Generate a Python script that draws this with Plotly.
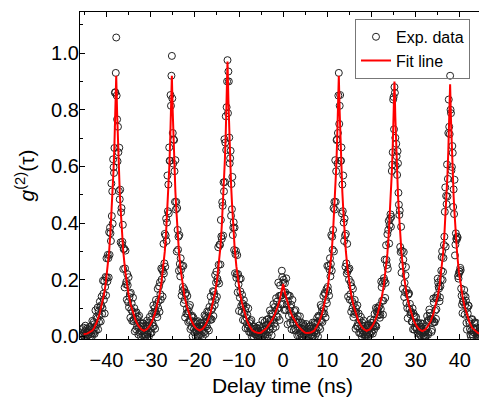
import plotly.graph_objects as go

# ---------------- data ----------------
# Experimental g2(tau) histogram: bins start at t_start and are t_step apart.
t_start = -45.6   # ns
t_step = 0.1      # ns

edge_left = [0.0, 0.026, 0.009, 0.004, 0.031, 0.014, 0.0, 0.019, 0.038, 0.007,
             0.012, 0.0, 0.028, 0.016, 0.005, 0.022]

# window around the peak at -37.8 ns  (-44.0 ... -31.5 ns)
peak_m378 = [0.006, 0.014, 0.034, 0.0, 0.033, 0.009, 0.026, 0.0, 0.055, 0.023,
             0.011, 0.051, 0.043, 0.009, 0.031, 0.092, 0.021, 0.068, 0.041, 0.063,
             0.102, 0.025, 0.089, 0.051, 0.076, 0.123, 0.104, 0.053, 0.11, 0.141,
             0.08, 0.1, 0.197, 0.151, 0.129, 0.195, 0.081, 0.175, 0.21, 0.145,
             0.276, 0.208, 0.194, 0.288, 0.276, 0.208, 0.368, 0.288, 0.384, 0.364,
             0.337, 0.54, 0.425, 0.512, 0.398, 0.625, 0.597, 0.577, 0.665, 0.86,
             0.862, 0.93,
             1.055,
             0.85, 0.766, 0.618, 0.74, 0.65, 0.513, 0.666, 0.484, 0.518, 0.332,
             0.438, 0.453, 0.324, 0.334, 0.394, 0.238, 0.308, 0.31, 0.173, 0.24,
             0.303, 0.184, 0.193, 0.13, 0.22, 0.181, 0.121, 0.209, 0.103, 0.139,
             0.15, 0.066, 0.154, 0.094, 0.117, 0.055, 0.087, 0.137, 0.054, 0.061,
             0.1, 0.018, 0.083, 0.064, 0.025, 0.085, 0.034, 0.059, 0.069, 0.007,
             0.031, 0.073, 0.013, 0.037, 0.046, 0.0, 0.036, 0.018, 0.047, 0.004,
             0.035, 0.046, 0.01]

# window around the peak at -25.2 ns  (-31.4 ... -18.9 ns)
peak_m252 = [0.0, 0.007, 0.038, 0.0, 0.028, 0.014, 0.056, 0.008, 0.021, 0.049,
             0.0, 0.039, 0.069, 0.011, 0.027, 0.058, 0.013, 0.081, 0.048, 0.037,
             0.11, 0.036, 0.083, 0.1, 0.027, 0.087, 0.129, 0.079, 0.114, 0.068,
             0.168, 0.1, 0.125, 0.177, 0.087, 0.191, 0.149, 0.13, 0.24, 0.201,
             0.236, 0.141, 0.23, 0.327, 0.222, 0.258, 0.362, 0.246, 0.356, 0.416,
             0.337, 0.402, 0.568, 0.442, 0.536, 0.434, 0.667, 0.62, 0.62, 0.852,
             0.814, 0.92,
             0.99,
             0.84, 0.718, 0.61, 0.695, 0.693, 0.583, 0.475, 0.622, 0.448, 0.475,
             0.3, 0.453, 0.376, 0.306, 0.352, 0.232, 0.358, 0.256, 0.212, 0.276,
             0.236, 0.144, 0.249, 0.16, 0.175, 0.249, 0.117, 0.167, 0.129, 0.067,
             0.15, 0.154, 0.081, 0.098, 0.143, 0.08, 0.051, 0.088, 0.103, 0.055,
             0.111, 0.026, 0.057, 0.071, 0.033, 0.073, 0.0, 0.05, 0.066, 0.027,
             0.014, 0.049, 0.033, 0.0, 0.052, 0.02, 0.034, 0.007, 0.054, 0.002,
             0.021, 0.027, 0.008]

# window around the peak at -12.6 ns  (-18.8 ... -6.3 ns)
peak_m126 = [0.047, 0.036, 0.005, 0.048, 0.019, 0.037, 0.0, 0.047, 0.039, 0.015,
             0.075, 0.033, 0.009, 0.071, 0.061, 0.036, 0.088, 0.028, 0.067, 0.086,
             0.021, 0.104, 0.065, 0.058, 0.141, 0.092, 0.06, 0.122, 0.1, 0.16,
             0.072, 0.157, 0.146, 0.111, 0.217, 0.129, 0.19, 0.229, 0.14, 0.204,
             0.195, 0.315, 0.253, 0.187, 0.324, 0.323, 0.254, 0.411, 0.353, 0.344,
             0.474, 0.461, 0.356, 0.544, 0.512, 0.696, 0.545, 0.684, 0.777, 0.658,
             0.809, 0.9,
             0.975,
             0.788, 0.935, 0.9, 0.702, 0.611, 0.629, 0.655, 0.426, 0.538, 0.449,
             0.563, 0.358, 0.384, 0.403, 0.305, 0.384, 0.223, 0.29, 0.302, 0.207,
             0.22, 0.287, 0.156, 0.22, 0.184, 0.09, 0.203, 0.137, 0.159, 0.204,
             0.107, 0.086, 0.147, 0.116, 0.058, 0.109, 0.128, 0.08, 0.055, 0.093,
             0.029, 0.105, 0.066, 0.044, 0.076, 0.028, 0.099, 0.038, 0.016, 0.047,
             0.054, 0.014, 0.026, 0.058, 0.0, 0.028, 0.012, 0.035, 0.0, 0.036,
             0.016, 0.008, 0.027]

# window around the (antibunched) peak at 0 ns  (-6.2 ... 6.3 ns)
peak_0 = [0.008, 0.014, 0.031, 0.0, 0.027, 0.004, 0.017, 0.0, 0.039, 0.01,
          0.0, 0.029, 0.021, 0.0, 0.01, 0.056, 0.0, 0.034, 0.009, 0.023,
          0.051, 0.0, 0.039, 0.008, 0.025, 0.059, 0.042, 0.001, 0.042, 0.062,
          0.014, 0.025, 0.092, 0.056, 0.037, 0.081, 0.004, 0.058, 0.079, 0.028,
          0.114, 0.061, 0.045, 0.104, 0.088, 0.034, 0.135, 0.071, 0.123, 0.098,
          0.069, 0.19, 0.101, 0.143, 0.058, 0.18, 0.144, 0.113, 0.144, 0.232,
          0.209, 0.115,
          0.19,
          0.2, 0.154, 0.093, 0.188, 0.156, 0.094, 0.205, 0.112, 0.147, 0.043,
          0.124, 0.145, 0.072, 0.091, 0.143, 0.047, 0.102, 0.112, 0.025, 0.077,
          0.129, 0.048, 0.061, 0.022, 0.09, 0.067, 0.028, 0.093, 0.021, 0.05,
          0.061, 0.004, 0.072, 0.03, 0.049, 0.005, 0.031, 0.071, 0.01, 0.018,
          0.049, 0.0, 0.039, 0.026, 0.0, 0.044, 0.007, 0.027, 0.036, 0.0,
          0.01, 0.044, 0.0, 0.018, 0.028, 0.0, 0.022, 0.008, 0.035, 0.0,
          0.027, 0.038, 0.004]

# window around the peak at 12.6 ns  (6.4 ... 18.9 ns)
peak_126 = [0.021, 0.015, 0.0, 0.049, 0.002, 0.029, 0.015, 0.048, 0.0, 0.029,
            0.045, 0.01, 0.023, 0.066, 0.05, 0.0, 0.073, 0.033, 0.071, 0.057,
            0.026, 0.111, 0.055, 0.103, 0.088, 0.051, 0.08, 0.143, 0.098, 0.081,
            0.154, 0.15, 0.067, 0.129, 0.167, 0.117, 0.249, 0.175, 0.16, 0.249,
            0.144, 0.236, 0.276, 0.212, 0.256, 0.358, 0.232, 0.352, 0.306, 0.376,
            0.453, 0.3, 0.475, 0.448, 0.622, 0.475, 0.583, 0.693, 0.695, 0.61,
            0.718, 0.85,
            0.93,
            0.75, 0.814, 0.852, 0.62, 0.62, 0.667, 0.434, 0.536, 0.442, 0.568,
            0.402, 0.337, 0.416, 0.356, 0.246, 0.362, 0.258, 0.222, 0.327, 0.23,
            0.141, 0.236, 0.201, 0.24, 0.13, 0.149, 0.191, 0.087, 0.177, 0.125,
            0.1, 0.168, 0.068, 0.114, 0.079, 0.129, 0.087, 0.027, 0.1, 0.083,
            0.036, 0.11, 0.037, 0.048, 0.081, 0.013, 0.058, 0.027, 0.011, 0.069,
            0.039, 0.0, 0.049, 0.021, 0.008, 0.056, 0.014, 0.028, 0.0, 0.038,
            0.007, 0.0, 0.03]

# window around the peak at 25.2 ns  (19.0 ... 31.5 ns)
peak_252 = [0.013, 0.006, 0.04, 0.0, 0.038, 0.013, 0.031, 0.007, 0.06, 0.048,
            0.016, 0.038, 0.048, 0.01, 0.035, 0.057, 0.024, 0.08, 0.04, 0.036,
            0.101, 0.035, 0.087, 0.098, 0.074, 0.085, 0.102, 0.077, 0.108, 0.066,
            0.077, 0.097, 0.194, 0.174, 0.126, 0.188, 0.077, 0.126, 0.206, 0.197,
            0.271, 0.136, 0.189, 0.322, 0.27, 0.252, 0.361, 0.239, 0.376, 0.408,
            0.328, 0.393, 0.415, 0.431, 0.387, 0.422, 0.584, 0.606, 0.65, 0.836,
            0.845, 0.731,
            0.88,
            0.86, 0.701, 0.602, 0.68, 0.636, 0.57, 0.654, 0.611, 0.507, 0.465,
            0.429, 0.444, 0.316, 0.298, 0.387, 0.225, 0.302, 0.25, 0.168, 0.271,
            0.298, 0.139, 0.189, 0.156, 0.216, 0.245, 0.118, 0.164, 0.1, 0.064,
            0.147, 0.151, 0.152, 0.096, 0.115, 0.078, 0.085, 0.086, 0.052, 0.053,
            0.099, 0.025, 0.082, 0.07, 0.024, 0.072, 0.033, 0.049, 0.068, 0.026,
            0.03, 0.048, 0.012, 0.0, 0.045, 0.019, 0.035, 0.006, 0.047, 0.002,
            0.034, 0.027, 0.01]

# window around the peak at 37.8 ns  (31.6 ... 44.1 ns)
peak_378 = [0.045, 0.02, 0.003, 0.0, 0.017, 0.015, 0.0, 0.001, 0.036, 0.028,
            0.072, 0.055, 0.006, 0.013, 0.058, 0.095, 0.083, 0.071, 0.062, 0.061,
            0.016, 0.023, 0.059, 0.048, 0.134, 0.12, 0.052, 0.05, 0.091, 0.137,
            0.062, 0.096, 0.135, 0.146, 0.204, 0.19, 0.176, 0.169, 0.124, 0.138,
            0.177, 0.201, 0.232, 0.28, 0.301, 0.199, 0.228, 0.277, 0.323, 0.352,
            0.44, 0.526, 0.317, 0.496, 0.467, 0.607, 0.494, 0.556, 0.718, 0.836,
            0.74, 0.714,
            0.92,
            0.8, 0.788, 0.586, 0.598, 0.672, 0.648, 0.457, 0.519, 0.432, 0.553,
            0.286, 0.324, 0.364, 0.345, 0.341, 0.352, 0.349, 0.213, 0.204, 0.222,
            0.229, 0.229, 0.242, 0.234, 0.169, 0.144, 0.112, 0.082, 0.124, 0.121,
            0.146, 0.164, 0.077, 0.111, 0.14, 0.126, 0.048, 0.024, 0.1, 0.081,
            0.109, 0.108, 0.055, 0.046, 0.026, 0.007, 0.0, 0.02, 0.059, 0.061,
            0.007, 0.0, 0.026, 0.014, 0.046, 0.05, 0.027, 0.022, 0.048, 0.032,
            0.014, 0.0, 0.0]

edge_right = [0.017, 0.0, 0.006, 0.029, 0.011, 0.0, 0.021, 0.004, 0.034, 0.009,
              0.0, 0.015, 0.026, 0.003, 0.012]

windows = [peak_m378, peak_m252, peak_m126, peak_0, peak_126, peak_252, peak_378]
for i, w in enumerate(windows):
    assert len(w) == 126, (i, len(w))
g2_data = edge_left + peak_m378 + peak_m252 + peak_m126 + peak_0 + peak_126 + peak_252 + peak_378 + edge_right

# Fit line
fit_t = [-45.2, -44.4, -43.8, -43.2, -42.8, -42.2, -41.6, -41.1, -40.6, -40.2, -39.8, -39.4, -39.1, -38.8, -38.6, -38.4, -38.2, -38.0, -37.8,
         -37.6, -37.4, -37.2, -37.0, -36.8, -36.5, -36.2, -35.8, -35.4, -35.0, -34.5, -34.0, -33.4, -32.8, -32.2, -31.5,
         -30.8, -30.2, -29.6, -29.0, -28.5, -28.0, -27.6, -27.2, -26.8, -26.5, -26.2, -26.0, -25.8, -25.6, -25.4, -25.2,
         -25.0, -24.8, -24.6, -24.4, -24.2, -23.9, -23.6, -23.2, -22.8, -22.4, -21.9, -21.4, -20.8, -20.2, -19.6, -18.9,
         -18.2, -17.6, -17.0, -16.4, -15.9, -15.4, -15.0, -14.6, -14.2, -13.9, -13.6, -13.4, -13.2, -13.0, -12.8, -12.6,
         -12.4, -12.2, -12.0, -11.8, -11.6, -11.3, -11.0, -10.6, -10.2, -9.8, -9.3, -8.8, -8.2, -7.6, -7.0, -6.3, -5.6, -5.0,
         -4.4, -4.0, -3.6, -3.2, -2.8, -2.4, -2.0, -1.6, -1.2, -0.8, -0.4, 0.0, 0.4, 0.8, 1.2, 1.6, 2.0, 2.4, 2.8, 3.2, 3.6, 4.0, 4.4, 5.0, 5.6, 6.3, 7.0,
         7.6, 8.2, 8.8, 9.3, 9.8, 10.2, 10.6, 11.0, 11.3, 11.6, 11.8, 12.0, 12.2, 12.4, 12.6,
         12.8, 13.0, 13.2, 13.4, 13.6, 13.9, 14.2, 14.6, 15.0, 15.4, 15.9, 16.4, 17.0, 17.6, 18.2, 18.9,
         19.6, 20.2, 20.8, 21.4, 21.9, 22.4, 22.8, 23.2, 23.6, 23.9, 24.2, 24.4, 24.6, 24.8, 25.0, 25.2,
         25.4, 25.6, 25.8, 26.0, 26.2, 26.5, 26.8, 27.2, 27.6, 28.0, 28.5, 29.0, 29.6, 30.2, 30.8, 31.5,
         32.2, 32.8, 33.4, 34.0, 34.5, 35.0, 35.4, 35.8, 36.2, 36.5, 36.8, 37.0, 37.2, 37.4, 37.6, 37.8,
         38.0, 38.2, 38.4, 38.6, 38.8, 39.1, 39.4, 39.8, 40.2, 40.6, 41.1, 41.6, 42.2, 42.8, 43.4, 44.0, 44.6, 44.9]
fit_g2 = [0.008, 0.010, 0.015, 0.021, 0.03, 0.05, 0.078, 0.108, 0.146, 0.184, 0.234, 0.30, 0.37, 0.45, 0.51, 0.59, 0.68, 0.79, 0.92,
          0.79, 0.68, 0.59, 0.51, 0.45, 0.37, 0.30, 0.235, 0.185, 0.148, 0.111, 0.082, 0.056, 0.038, 0.026, 0.020,
          0.026, 0.038, 0.056, 0.082, 0.111, 0.148, 0.185, 0.235, 0.30, 0.37, 0.45, 0.51, 0.59, 0.68, 0.79, 0.92,
          0.79, 0.68, 0.59, 0.51, 0.45, 0.37, 0.30, 0.235, 0.185, 0.148, 0.111, 0.082, 0.056, 0.038, 0.027, 0.021,
          0.027, 0.040, 0.059, 0.086, 0.117, 0.156, 0.195, 0.248, 0.316, 0.39, 0.474, 0.538, 0.622, 0.717, 0.833, 0.97,
          0.833, 0.717, 0.622, 0.538, 0.474, 0.39, 0.316, 0.248, 0.195, 0.156, 0.117, 0.086, 0.057, 0.036, 0.022, 0.015, 0.012, 0.013,
          0.02, 0.026, 0.033, 0.041, 0.05, 0.061, 0.074, 0.089, 0.107, 0.128, 0.153, 0.185, 0.153, 0.128, 0.107, 0.089, 0.074, 0.061, 0.05, 0.041, 0.033, 0.026, 0.02, 0.013, 0.012, 0.014, 0.02,
          0.034, 0.053, 0.08, 0.109, 0.148, 0.185, 0.235, 0.30, 0.37, 0.45, 0.51, 0.59, 0.68, 0.79, 0.92,
          0.79, 0.68, 0.59, 0.51, 0.45, 0.37, 0.30, 0.235, 0.185, 0.148, 0.111, 0.082, 0.056, 0.038, 0.026, 0.020,
          0.025, 0.037, 0.055, 0.080, 0.109, 0.145, 0.181, 0.23, 0.293, 0.362, 0.44, 0.499, 0.577, 0.665, 0.773, 0.90,
          0.773, 0.665, 0.577, 0.499, 0.44, 0.362, 0.293, 0.23, 0.181, 0.145, 0.109, 0.080, 0.055, 0.037, 0.025, 0.019,
          0.025, 0.037, 0.054, 0.079, 0.107, 0.143, 0.179, 0.227, 0.29, 0.358, 0.435, 0.493, 0.571, 0.658, 0.764, 0.89,
          0.764, 0.658, 0.571, 0.493, 0.435, 0.358, 0.29, 0.227, 0.179, 0.143, 0.105, 0.076, 0.049, 0.03, 0.02, 0.013, 0.009, 0.008]
assert len(fit_t) == len(fit_g2), (len(fit_t), len(fit_g2))

x_ticks = [-40, -30, -20, -10, 0, 10, 20, 30, 40]
y_ticks = [0.0, 0.2, 0.4, 0.6, 0.8, 1.0]

# ---------------- figure ----------------
fig = go.Figure()
fig.add_trace(go.Scatter(
    x0=t_start, dx=t_step, y=g2_data, mode="markers", name="Exp. data",
    marker=dict(symbol="circle-open", size=7, color="#222222", line=dict(width=1)),
))
fig.add_trace(go.Scatter(
    x=fit_t, y=fit_g2, mode="lines", name="Fit line",
    line=dict(color="#ff0000", width=2),
))

axis_common = dict(
    showline=True, linecolor="black", linewidth=1.2, mirror="allticks",
    ticks="inside", ticklen=5, tickwidth=1.2, tickcolor="black",
    showgrid=False, zeroline=False,
    tickfont=dict(size=20, color="black"),
)
fig.update_xaxes(
    range=[-46, 45.7], tickvals=x_ticks, ticklabelstandoff=3,
    minor=dict(dtick=5, tick0=0, ticks="inside", ticklen=3, tickcolor="black", tickwidth=1),
    title=dict(text="Delay time (ns)", font=dict(size=21, color="black"), standoff=10),
    **axis_common,
)
fig.update_yaxes(
    range=[-0.009, 1.145], tickvals=y_ticks, tickformat=".1f", ticklabelstandoff=-4,
    minor=dict(dtick=0.1, tick0=0, ticks="inside", ticklen=3, tickcolor="black", tickwidth=1),
    title=dict(text="<i>g</i><sup>(2)</sup>(τ)", font=dict(size=21, color="black"), standoff=10),
    **axis_common,
)
# the page adds an 8 px body margin, so the figure is 8 px smaller than the window
fig.update_layout(
    width=479, height=389,
    margin=dict(l=72, r=2, t=4, b=58, autoexpand=False),
    paper_bgcolor="white", plot_bgcolor="white",
    font=dict(family="Liberation Sans, Arial, sans-serif", size=20, color="black"),
    showlegend=True,
    legend=dict(x=0.679, y=0.979, xanchor="left", yanchor="top",
                bordercolor="#777777", borderwidth=1, bgcolor="rgba(255,255,255,0)",
                font=dict(size=16, color="black"), tracegroupgap=0),
)
fig.write_html("out.html")
